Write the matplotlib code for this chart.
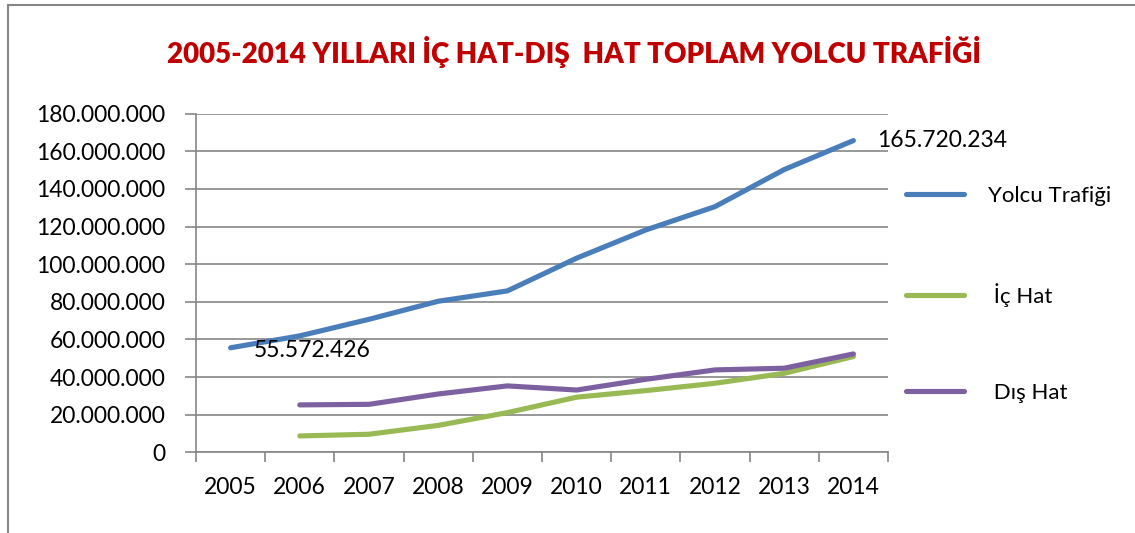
import numpy as np
import matplotlib.pyplot as plt
from matplotlib.lines import Line2D
from matplotlib.ticker import FuncFormatter, FixedLocator

plt.rcParams['font.family'] = ['Lato', 'DejaVu Sans']

years = ['2005', '2006', '2007', '2008', '2009', '2010', '2011', '2012', '2013', '2014']
yolcu = [55572426, 61900000, 70700000, 80300000, 85800000, 103200000, 118200000, 130600000, 150300000, 165720234]
ic_hat = [np.nan, 8700000, 9600000, 14300000, 21100000, 29300000, 32800000, 36700000, 42000000, 50900000]
dis_hat = [np.nan, 25200000, 25500000, 31000000, 35300000, 33100000, 38800000, 43800000, 44700000, 52300000]

series = [
    ('Yolcu Trafiği', yolcu, '#4A7EBB'),
    (' İç Hat', ic_hat, '#98B954'),
    (' Dış Hat', dis_hat, '#7D60A0'),
]

fig = plt.figure(figsize=(11.35, 5.33), dpi=100)
ax = fig.add_axes([196 / 1135, 80.7 / 533, 692 / 1135, 338.6 / 533])

x = np.arange(len(years))
for name, vals, col in series:
    ax.plot(x, vals, color=col, lw=3.7, solid_capstyle='round', label=name)

ax.set_xlim(-0.5, len(years) - 0.5)
ax.set_ylim(0, 180000000)
ax.yaxis.set_major_locator(FixedLocator(np.arange(0, 180000001, 20000000)))
ax.yaxis.set_major_formatter(FuncFormatter(lambda v, p: f"{v:,.0f}".replace(",", ".")))
ax.grid(axis='y', color='#868686', lw=1.2)
ax.set_axisbelow(True)

ax.set_xticks(x)
ax.set_xticklabels(years)
ax.set_xticks(np.arange(-0.5, len(years)), minor=True)
ax.tick_params(axis='x', which='major', length=0, pad=18, labelsize=16.5)
ax.tick_params(axis='x', which='minor', length=7, width=1.2, color='#868686')
ax.tick_params(axis='y', length=8, width=1.2, color='#868686', pad=14, labelsize=16.5)

for s in ['top', 'right']:
    ax.spines[s].set_visible(False)
for s in ['left', 'bottom']:
    ax.spines[s].set_color('#868686')
    ax.spines[s].set_linewidth(1.2)

ax.annotate('55.572.426', (x[0], yolcu[0]), xytext=(23, -3), textcoords='offset pixels',
            fontsize=16.5, ha='left', va='center', annotation_clip=False)
ax.annotate('165.720.234', (x[-1], yolcu[-1]), xytext=(24, 0), textcoords='offset pixels',
            fontsize=16.5, ha='left', va='center', annotation_clip=False)

fig.legend(loc='upper left', bbox_to_anchor=(906 / 1135, 1 - 186 / 533), frameon=False,
           fontsize=16, handlelength=2.6, handletextpad=1.1, labelspacing=3.45,
           borderaxespad=0, borderpad=0)

fig.text(0.5 * (173 + 975) / 1135, 1 - 52 / 533,
         '2005-2014 YILLARI İÇ HAT-DIŞ  HAT TOPLAM YOLCU TRAFİĞİ',
         ha='center', va='center', fontsize=20, fontweight='heavy', color='#C00000')

# outer chart frame: only top and left edges are visible in the crop
fx, fy = 8 / 1135, 1 - 5 / 533
fig.add_artist(Line2D([fx, 1.0], [fy, fy], transform=fig.transFigure, color='#868686', lw=1.5))
fig.add_artist(Line2D([fx, fx], [0.0, fy], transform=fig.transFigure, color='#868686', lw=1.5))

fig.savefig('out.png', dpi=100)
